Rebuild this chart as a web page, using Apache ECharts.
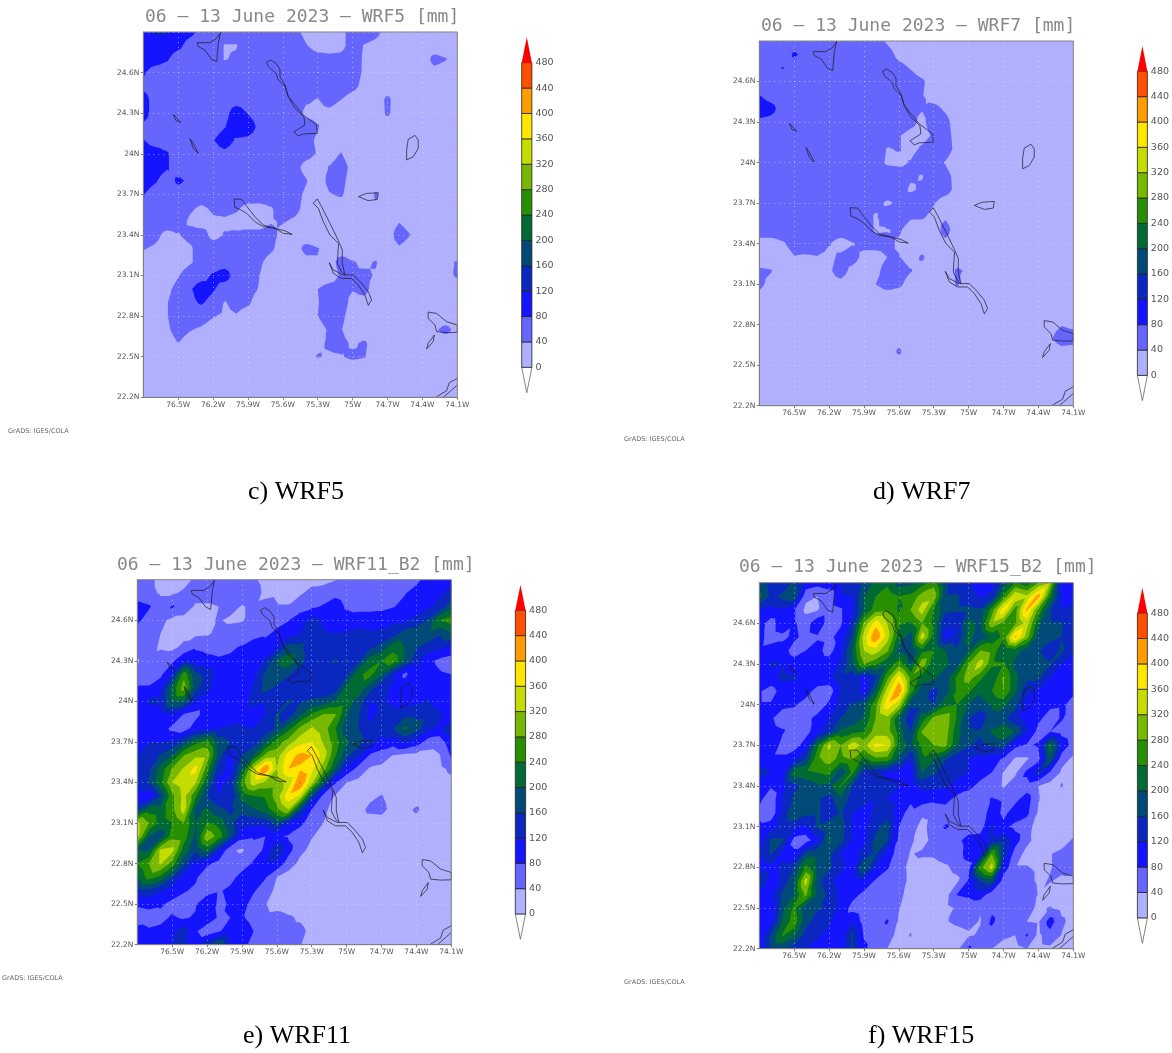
<!DOCTYPE html>
<html>
<head>
<meta charset="utf-8">
<style>html,body{margin:0;padding:0;background:#fff}#chart{width:1172px;height:1053px}</style>
<script src="https://cdn.jsdelivr.net/npm/echarts@6/dist/echarts.min.js"></script>
</head>
<body>
<div id="chart"></div>
<script>
// ---- values (mm), north to south, west to east, 0.1 degree nodes ----
const lons = [-76.8,-76.7,-76.6,-76.5,-76.4,-76.3,-76.2,-76.1,-76.0,-75.9,-75.8,-75.7,-75.6,-75.5,-75.4,-75.3,-75.2,-75.1,-75.0,-74.9,-74.8,-74.7,-74.6,-74.5,-74.4,-74.3,-74.2,-74.1];
const lats = [24.9,24.8,24.7,24.6,24.5,24.4,24.3,24.2,24.1,24.0,23.9,23.8,23.7,23.6,23.5,23.4,23.3,23.2,23.1,23.0,22.9,22.8,22.7,22.6,22.5,22.4,22.3,22.2];
const contourLevels = [0,40,80,120,160,200,240,280,320,360,400,440,480];
const bandColors = ['#b0b0ff','#6666ff','#1414ff','#0a28c0','#004a78','#006a35','#289000','#78b800','#c4dc00','#ffe600','#ff9c00','#ff5000','#ff0000'];

const wrf5 = [
[100,125,125,100,90,70,60,60,60,60,60,60,55,50,30,25,25,30,55,60,50,25,20,20,20,20,20,20],
[100,105,100,90,65,60,60,38,38,60,60,60,60,60,42,25,25,30,55,38,30,20,20,20,20,20,20,20],
[100,100,85,60,60,60,60,38,45,60,60,60,60,60,60,55,50,50,60,35,25,20,20,20,20,50,42,20],
[85,60,60,60,60,60,60,60,60,60,60,60,60,60,60,60,60,60,55,35,20,20,20,20,20,30,25,20],
[70,60,60,60,60,60,60,60,60,60,60,60,60,60,60,60,60,60,50,30,20,20,20,20,20,20,20,20],
[100,60,60,60,60,60,60,60,60,60,60,60,60,60,45,38,55,40,25,20,20,48,20,20,20,20,20,20],
[100,60,60,60,60,60,60,65,105,78,60,60,60,58,32,32,30,20,20,20,20,46,20,20,20,20,20,20],
[70,60,60,60,60,60,60,78,105,105,68,60,60,60,55,42,25,20,20,20,20,20,20,20,20,20,20,20],
[82,60,60,60,60,60,78,100,75,70,60,60,60,60,50,35,20,20,20,20,20,20,20,20,20,20,20,20],
[100,100,85,60,60,60,65,70,60,60,60,60,60,55,50,38,25,42,20,20,20,20,20,20,20,20,20,20],
[100,100,85,60,60,60,60,60,60,60,60,60,60,50,30,25,42,55,30,20,20,20,20,20,20,20,20,20],
[100,85,60,88,72,60,60,60,60,60,60,60,60,55,42,20,50,50,25,20,20,20,20,20,20,20,20,20],
[82,60,60,60,60,60,60,60,60,60,60,60,60,50,35,20,38,45,22,25,44,20,20,20,20,20,20,20],
[80,60,60,60,45,35,45,50,45,30,30,38,55,50,30,20,20,20,20,20,36,20,20,20,20,20,20,20],
[60,60,60,55,35,25,35,35,30,25,25,38,42,35,25,20,20,20,20,20,20,20,38,20,20,20,20,20],
[58,50,30,38,50,55,30,42,45,50,50,50,30,25,20,20,20,20,20,20,20,20,60,40,20,20,20,20],
[42,35,25,25,35,55,55,55,60,60,55,45,25,25,50,42,25,20,20,20,20,20,35,20,20,20,20,20],
[25,25,22,22,35,55,60,60,60,55,45,28,20,20,30,38,22,55,42,35,42,20,20,20,20,20,35,42],
[20,20,22,38,60,65,85,100,60,55,40,22,20,20,20,20,20,45,40,45,38,20,20,20,20,20,30,45],
[20,20,32,50,75,100,85,58,55,50,38,20,20,20,25,40,55,50,42,50,25,20,20,20,20,20,20,20],
[20,20,38,55,70,85,65,38,50,45,25,20,20,20,20,38,60,55,30,30,20,20,20,20,20,20,20,20],
[20,20,38,55,60,55,42,35,38,25,20,20,20,20,20,40,60,48,25,20,20,20,20,20,20,20,20,20],
[20,20,35,50,42,35,25,20,20,20,20,20,20,20,20,25,45,42,20,20,20,20,20,20,20,35,50,30],
[20,20,28,40,28,20,20,20,20,20,20,20,20,20,20,33,45,50,35,45,25,20,20,20,20,20,20,20],
[20,20,20,20,20,20,20,20,20,20,20,20,20,20,30,42,36,38,46,42,25,20,20,20,20,20,20,20],
[20,20,20,20,20,20,20,20,20,20,20,20,20,20,20,20,20,20,20,20,20,20,20,20,20,20,20,20],
[20,20,20,20,20,20,20,20,20,20,20,20,20,20,20,20,20,20,20,20,20,20,20,20,20,20,20,20],
[20,20,20,20,20,20,20,20,20,20,20,20,20,20,20,20,20,20,20,20,20,20,20,20,20,20,20,20]
];

const wrf7 = [
[60,60,60,60,60,60,60,60,60,60,60,35,20,20,20,20,20,20,20,20,20,20,20,20,20,20,20,20],
[60,60,60,85,70,60,60,60,60,60,60,55,30,20,20,20,20,20,20,20,20,20,20,20,20,20,20,20],
[60,60,82,60,60,60,60,60,60,60,60,60,52,38,22,20,20,20,20,20,20,20,20,20,20,20,20,20],
[60,60,60,60,60,60,60,60,60,60,60,60,60,55,45,25,20,20,20,20,20,20,20,20,20,20,20,20],
[80,60,60,60,60,60,60,60,60,60,60,60,60,55,42,22,20,20,20,20,20,20,20,20,20,20,20,20],
[105,95,60,60,60,60,60,60,60,60,60,60,60,45,42,50,35,20,20,20,20,20,20,20,20,20,20,20],
[70,65,60,60,60,60,60,60,60,60,60,60,60,50,32,58,50,25,20,20,20,20,20,20,20,20,20,20],
[60,60,60,60,60,60,60,60,60,60,60,60,42,30,28,45,50,30,20,20,20,20,20,20,20,20,20,20],
[60,60,60,60,60,60,60,60,60,60,60,38,42,30,45,60,55,30,20,20,20,20,20,20,20,20,20,20],
[60,60,60,60,60,60,60,60,60,60,55,35,32,42,60,55,38,20,20,20,20,20,20,20,20,20,20,20],
[60,60,60,60,60,60,60,60,60,60,60,60,60,45,38,60,50,30,20,20,20,20,20,20,20,20,20,20],
[60,60,60,60,60,60,60,60,60,60,60,60,55,35,45,60,55,28,20,20,20,20,20,20,20,20,20,20],
[60,60,60,60,60,60,60,60,60,55,50,35,45,60,60,42,22,20,20,20,20,20,20,20,20,20,20,20],
[60,60,60,60,60,60,60,60,60,55,36,60,60,45,45,30,35,20,20,20,20,20,20,20,20,20,20,20],
[60,60,60,60,60,60,60,60,60,60,36,38,45,25,20,20,55,20,20,20,20,20,20,20,20,20,20,20],
[25,25,35,55,60,60,42,25,38,50,55,50,35,20,20,20,30,20,20,20,20,20,20,20,20,20,20,20],
[20,20,20,38,35,38,30,48,55,30,25,40,42,25,45,20,20,20,20,20,20,20,20,20,20,20,20,20],
[45,42,20,20,20,20,35,55,30,20,30,55,58,42,28,20,20,45,35,20,20,20,20,20,20,20,20,20],
[48,30,20,20,20,20,30,30,20,20,40,55,48,25,38,20,20,44,22,20,20,20,20,20,20,20,20,20],
[30,20,20,20,20,20,20,20,20,20,20,20,20,20,20,20,20,20,20,20,20,20,20,20,20,20,20,20],
[20,20,20,20,20,20,20,20,20,20,20,20,20,20,20,20,20,20,20,20,20,20,20,20,20,20,20,20],
[20,20,20,20,20,20,20,20,20,20,20,20,20,20,20,20,20,20,20,20,20,20,20,20,20,25,38,30],
[20,20,20,20,20,20,20,20,20,20,20,20,25,20,20,20,20,20,20,20,20,20,20,20,20,35,60,60],
[20,20,20,20,20,20,20,20,20,20,20,20,46,20,20,20,20,20,20,20,20,20,20,20,20,20,25,20],
[20,20,20,20,20,20,20,20,20,20,20,20,20,20,20,20,20,20,20,20,20,20,20,20,20,20,20,20],
[20,20,20,20,20,20,20,20,20,20,20,20,20,20,20,20,20,20,20,20,20,20,20,20,20,20,20,20],
[20,20,20,20,20,20,20,20,20,20,20,20,20,20,20,20,20,20,20,20,20,20,20,20,20,20,20,20],
[20,20,20,20,20,20,20,20,20,20,20,20,20,20,20,20,20,20,20,20,20,20,20,20,20,20,20,20]
];

const wrf11 = [
[50,50,30,38,30,45,50,52,50,50,45,30,30,35,40,30,30,38,50,52,55,55,42,55,70,95,100,105],
[60,50,36,36,45,55,55,55,55,55,55,33,36,30,36,50,55,70,60,60,60,62,68,78,95,105,115,135],
[95,85,55,85,60,35,35,40,48,38,45,50,42,42,60,72,85,100,75,65,65,68,78,90,105,115,130,190],
[90,60,50,30,28,32,35,42,36,38,50,45,65,78,105,135,115,100,100,105,105,105,110,115,130,165,240,260],
[55,50,40,28,30,32,35,50,52,55,60,72,90,105,120,150,125,122,125,130,125,130,145,180,190,190,165,200],
[52,50,36,32,48,75,70,68,72,85,110,100,118,175,170,135,125,125,130,140,150,175,225,200,165,140,130,110],
[38,50,60,70,120,100,90,85,90,100,110,125,200,230,180,125,135,165,150,150,220,240,265,195,135,90,70,60],
[42,55,70,125,265,170,150,105,95,100,110,170,175,165,130,125,130,130,150,230,255,200,130,70,110,100,85,80],
[85,85,110,210,300,175,130,105,95,100,125,175,155,130,125,125,125,135,215,225,180,130,115,105,100,100,100,95],
[90,125,125,205,200,120,105,100,105,100,135,125,125,165,155,170,175,205,220,185,120,125,115,100,110,125,95,85],
[100,105,105,115,75,65,105,110,105,110,90,120,165,140,195,250,285,285,200,165,110,130,135,150,150,150,130,85],
[100,105,100,70,55,105,115,120,125,125,120,130,170,225,290,325,300,245,170,160,130,125,160,210,180,130,110,165],
[110,120,120,130,170,225,255,180,160,130,140,190,260,300,345,360,315,260,205,180,140,110,100,130,105,62,58,105],
[120,130,165,200,280,310,310,180,110,160,200,290,300,385,410,400,345,245,170,130,75,60,38,30,28,25,38,85],
[125,150,215,285,325,375,260,140,110,200,340,440,320,400,395,370,300,200,110,65,35,30,25,22,22,22,30,48],
[120,165,230,320,345,325,205,110,130,260,345,310,300,335,445,330,195,85,40,30,32,25,22,20,20,20,22,30],
[100,85,160,270,335,250,160,120,120,215,240,245,300,390,350,170,65,38,28,35,32,42,25,20,22,20,20,22],
[160,220,215,270,340,190,205,170,150,175,195,220,270,320,170,80,45,32,25,28,48,50,28,30,45,25,20,20],
[330,280,220,240,280,200,245,225,170,130,130,130,180,120,90,60,40,25,20,20,22,25,20,20,28,20,20,20],
[330,200,175,265,260,190,310,265,180,95,85,80,85,75,55,42,28,20,20,20,20,20,20,20,20,20,20,20],
[200,195,325,335,220,170,220,130,45,35,65,85,165,95,50,30,20,20,20,20,20,20,20,20,20,20,20,20],
[240,280,325,265,170,110,90,65,55,60,85,110,110,60,30,20,20,20,20,20,20,20,20,20,20,20,20,20],
[200,260,230,165,105,90,45,60,65,95,105,85,40,22,20,20,20,20,20,20,20,20,20,20,20,20,20,20],
[150,150,125,100,85,70,60,75,90,110,85,55,32,20,20,20,20,20,20,20,20,20,20,20,20,20,20,20],
[85,90,85,70,55,75,120,70,85,100,60,42,25,20,20,20,20,20,20,20,20,20,20,20,20,20,20,20],
[60,65,70,85,75,85,105,75,80,85,65,50,55,45,35,20,20,20,20,20,20,20,20,20,20,20,20,20],
[95,85,90,115,140,85,55,75,100,105,80,60,60,50,50,30,20,20,20,20,20,20,20,20,20,20,20,20],
[95,85,95,120,130,110,150,200,115,100,60,55,50,50,42,22,20,20,20,20,20,20,20,20,20,20,20,20]
];

const wrf15 = [
[170,140,130,170,110,95,110,120,150,170,210,230,180,190,220,260,170,130,125,100,105,180,240,210,280,320,110,115],
[215,150,170,190,50,40,50,115,120,200,240,265,240,250,300,310,165,165,140,115,130,250,360,330,420,240,120,115],
[120,110,115,85,30,38,60,75,115,200,260,270,235,280,340,240,170,165,170,165,260,390,260,410,270,165,120,125],
[100,60,110,85,60,110,60,75,135,290,385,320,245,235,280,230,130,125,210,190,310,270,270,340,210,165,165,120],
[95,60,70,90,65,75,70,95,170,340,440,340,220,180,345,225,110,130,215,170,210,250,410,300,180,175,160,120],
[90,100,100,60,80,95,60,115,200,320,340,290,190,165,230,240,200,165,200,280,270,195,220,180,165,130,170,125],
[90,125,120,100,100,110,105,125,190,280,250,205,265,190,310,205,210,180,280,340,250,245,190,165,190,165,120,105],
[85,110,130,125,110,115,110,150,130,110,150,270,380,270,220,210,175,250,300,250,205,285,210,170,170,120,105,95],
[85,60,100,105,100,60,55,125,150,105,200,340,440,260,175,150,180,245,245,205,240,280,205,130,115,100,95,85],
[85,85,90,85,60,50,90,130,165,190,270,390,330,170,170,160,230,240,195,180,205,210,175,105,100,90,85,70],
[85,85,60,60,65,95,120,160,165,205,280,310,205,130,220,290,305,235,160,125,190,170,130,105,90,60,85,55],
[90,95,85,55,65,105,150,210,230,240,300,300,225,160,285,310,300,215,170,165,205,235,195,125,65,80,60,40],
[90,125,60,60,100,230,330,280,345,305,370,360,230,190,250,280,290,205,165,150,165,175,90,75,85,225,120,55],
[85,90,90,110,165,270,300,265,285,225,270,265,190,125,230,205,165,130,120,110,95,75,35,35,65,200,50,35],
[140,120,105,225,235,240,250,170,250,140,125,115,110,100,200,170,130,130,120,95,80,38,32,90,140,75,35,25],
[100,85,110,150,170,195,190,245,160,135,130,125,120,95,130,130,125,110,90,70,60,36,60,60,40,25,42,22],
[90,50,125,170,175,165,140,190,140,125,120,120,110,85,100,90,95,65,60,60,85,75,70,100,42,22,20,20],
[70,50,130,200,170,170,125,165,120,115,125,150,90,70,45,50,55,60,65,50,105,70,100,90,35,20,20,20],
[90,105,130,130,110,170,190,180,120,110,150,175,80,55,30,55,85,70,60,60,125,90,70,55,22,20,20,20],
[100,165,165,65,60,105,205,175,120,110,170,165,70,45,28,50,55,70,95,100,130,145,100,50,25,20,22,45],
[120,165,110,90,175,190,170,120,100,140,165,105,60,38,45,45,55,60,100,110,280,150,60,28,22,38,50,55],
[90,110,130,165,250,190,170,130,100,200,120,85,55,30,25,28,35,50,65,265,340,110,42,42,35,38,50,55],
[170,95,130,195,340,175,130,105,95,110,75,55,60,30,20,22,25,32,85,160,185,55,42,50,35,42,32,28],
[100,110,170,200,290,190,150,110,95,70,60,80,50,25,20,20,22,82,90,105,55,48,60,65,38,25,22,20],
[90,90,185,250,170,165,155,110,65,50,50,55,42,20,20,20,28,45,50,42,70,55,55,50,35,42,28,20],
[90,100,205,265,175,140,125,105,120,60,60,85,35,30,22,28,38,45,50,38,90,48,48,40,35,100,48,25],
[90,165,245,210,145,125,110,90,170,75,60,60,25,42,20,22,25,30,35,45,60,45,40,85,30,65,38,25],
[95,170,170,140,120,110,100,90,165,90,50,40,22,25,20,20,22,28,90,40,40,30,25,40,28,32,25,22]
];

// coast outlines, degrees [lon, lat]
const coastA = [[-76.336,24.821],[-76.227,24.821],[-76.169,24.853],[-76.135,24.898],[-76.155,24.816],[-76.169,24.681],[-76.212,24.698],[-76.27,24.767],[-76.327,24.792],[-76.336,24.821]];
const coastB = [[-75.74,24.676],[-75.705,24.693],[-75.659,24.668],[-75.625,24.626],[-75.625,24.57],[-75.582,24.508],[-75.553,24.422],[-75.482,24.348],[-75.424,24.286],[-75.367,24.25],[-75.31,24.213],[-75.304,24.151],[-75.424,24.146],[-75.467,24.131],[-75.505,24.161],[-75.41,24.213],[-75.419,24.274],[-75.496,24.336],[-75.553,24.422],[-75.582,24.501],[-75.639,24.545],[-75.659,24.594],[-75.725,24.644],[-75.74,24.676]];
const coastC = [[-76.542,24.291],[-76.508,24.262],[-76.479,24.23],[-76.519,24.245],[-76.542,24.291]];
const coastD = [[-76.399,24.112],[-76.37,24.077],[-76.327,24.003],[-76.37,24.04],[-76.399,24.112]];
const coastE = [[-74.522,24.107],[-74.464,24.136],[-74.436,24.102],[-74.436,24.04],[-74.479,23.978],[-74.536,23.954],[-74.536,24.028],[-74.522,24.107]];
const coastF = [[-74.951,23.683],[-74.88,23.707],[-74.779,23.712],[-74.788,23.663],[-74.865,23.653],[-74.951,23.683]];
const coastG = [[-76.02,23.666],[-75.955,23.663],[-75.912,23.614],[-75.84,23.535],[-75.768,23.473],[-75.668,23.449],[-75.582,23.431],[-75.519,23.404],[-75.596,23.412],[-75.668,23.449],[-75.768,23.461],[-75.84,23.498],[-75.912,23.56],[-75.969,23.589],[-76.012,23.604],[-76.02,23.666]];
const coastH = [[-75.338,23.634],[-75.304,23.666],[-75.267,23.609],[-75.195,23.486],[-75.123,23.358],[-75.089,23.289],[-75.089,23.19],[-75.066,23.104],[-75.095,23.128],[-75.132,23.19],[-75.121,23.338],[-75.195,23.399],[-75.252,23.498],[-75.295,23.597],[-75.338,23.634]];
const coastI = [[-75.201,23.195],[-75.166,23.141],[-75.08,23.104],[-74.994,23.104],[-74.923,23.042],[-74.865,22.981],[-74.837,22.919],[-74.865,22.88],[-74.894,22.956],[-74.951,23.03],[-75.009,23.079],[-75.095,23.079],[-75.166,23.116],[-75.201,23.195]];
const coastJ = [[-74.35,22.83],[-74.278,22.82],[-74.192,22.759],[-74.1,22.734],[-74.1,22.68],[-74.192,22.678],[-74.278,22.685],[-74.292,22.734],[-74.35,22.783],[-74.35,22.83]];
const coastK = [[-74.298,22.66],[-74.307,22.611],[-74.364,22.557],[-74.35,22.599],[-74.298,22.66]];
const coastL = [[-74.1,22.34],[-74.169,22.308],[-74.192,22.249],[-74.278,22.204]];
const coastM = [[-74.22,22.2],[-74.148,22.254],[-74.1,22.291]];
const coasts = [coastA,coastB,coastC,coastD,coastE,coastF,coastG,coastH,coastI,coastJ,coastK,coastL,coastM];

const panelTitles = ['06 \u2013 13 June 2023 \u2013 WRF5 [mm]','06 \u2013 13 June 2023 \u2013 WRF7 [mm]','06 \u2013 13 June 2023 \u2013 WRF11_B2 [mm]','06 \u2013 13 June 2023 \u2013 WRF15_B2 [mm]'];
const captions = ['c) WRF5','d) WRF7','e) WRF11','f) WRF15'];
const credit = 'GrADS: IGES/COLA';
const fields = [wrf5,wrf7,wrf11,wrf15];

// ---- layout ----
const layout = [
  {map:[143.3,32,314,365.3], bar:[521.7,37.3,10.2,355.4], title:[145,8], cap:[248,479], cred:[8,428], diagonal:false},
  {map:[759.3,41,314,364.7], bar:[1137.4,46,10.3,354.7], title:[761,17], cap:[873,479], cred:[624,436], diagonal:false},
  {map:[137.3,579.7,314,365], bar:[515.3,585,10.3,354.3], title:[117,556], cap:[243,1023], cred:[2,975], diagonal:true},
  {map:[759.3,582.7,314,366], bar:[1137.4,587.7,10.3,355.6], title:[739,558], cap:[868,1023], cred:[624,979], diagonal:true}
];

function clipAbove(pts, lv){
  const out=[];
  for(let i=0;i<pts.length;i++){
    const a=pts[i], b=pts[(i+1)%pts.length];
    const ai=a[2]>=lv, bi=b[2]>=lv;
    if(ai) out.push(a);
    if(ai!==bi){
      const t=(lv-a[2])/(b[2]-a[2]);
      out.push([a[0]+t*(b[0]-a[0]),a[1]+t*(b[1]-a[1]),lv]);
    }
  }
  return out;
}
function fillRender(field, diagonal){
  return function(params, api){
    const k=api.value(2), lv=contourLevels[k];
    let d='';
    for(let r=0;r<lats.length-1;r++){
      for(let c=0;c<lons.length-1;c++){
        const P=(cc,rr)=>{const p=api.coord([lons[cc],lats[rr]]);return [p[0],p[1],field[rr][cc]];};
        const nw=P(c,r),ne=P(c+1,r),se=P(c+1,r+1),sw=P(c,r+1);
        let tris;
        if(diagonal){
          // split the cell along its SW-NE diagonal, the direction the rain bands run
          tris=[[nw,ne,sw],[ne,se,sw]];
        }else{
          const m=[(nw[0]+se[0])/2,(nw[1]+se[1])/2,(nw[2]+ne[2]+se[2]+sw[2])/4];
          tris=[[nw,ne,m],[ne,se,m],[se,sw,m],[sw,nw,m]];
        }
        tris.forEach(tri=>{
          const poly=clipAbove(tri,lv);
          if(poly.length>=3){
            d+='M'+poly.map(q=>q[0].toFixed(2)+' '+q[1].toFixed(2)).join('L')+'Z';
          }
        });
      }
    }
    if(!d) return {type:'group',children:[]};
    return {type:'path',shape:{pathData:d},style:{fill:bandColors[k],stroke:null},silent:true};
  };
}
function barRender(params, api){
  const lo=api.value(0), hi=api.value(1), k=api.value(2);
  const a=api.coord([0,lo]), b=api.coord([1,hi]);
  if(k<0){
    const t=api.coord([0.5,lo]);
    return {type:'polygon',shape:{points:[[a[0],b[1]],[b[0],b[1]],[t[0],t[1]]]},style:{fill:'#ffffff',stroke:'#666',lineWidth:0.8}};
  }
  if(k===bandColors.length-1){
    const t=api.coord([0.5,hi]);
    return {type:'polygon',shape:{points:[[a[0],a[1]],[b[0],a[1]],[t[0],t[1]]]},style:{fill:bandColors[k]}};
  }
  return {type:'rect',shape:{x:a[0],y:b[1],width:b[0]-a[0],height:a[1]-b[1]},style:{fill:bandColors[k],stroke:'#222',lineWidth:0.8}};
}

const grids=[],xAxes=[],yAxes=[],series=[],titles=[];
const tickFont={fontFamily:'DejaVu Sans',fontSize:7.5,color:'#555'};
const barData=[[-40,0,-1]].concat(contourLevels.map((lv,k)=>[lv,lv+40,k]));
const gridDots={show:true,lineStyle:{type:[1,4],color:'rgba(225,225,225,0.6)',width:1}};

fields.forEach((field,idx)=>{
  const L=layout[idx], g=grids.length;
  grids.push({left:L.map[0],top:L.map[1],width:L.map[2],height:L.map[3],show:true,z:4,backgroundColor:'transparent',borderColor:'#808080',borderWidth:1});
  xAxes.push({type:'value',gridIndex:g,min:-76.8,max:-74.1,interval:0.3,z:3,
    axisLine:{show:true,lineStyle:{color:'#808080'}},axisTick:{show:true,length:2.5,lineStyle:{color:'#808080'}},
    splitLine:gridDots,
    axisLabel:Object.assign({showMinLabel:false,margin:3.5,formatter:v=>parseFloat(Math.abs(v).toFixed(1))+'W'},tickFont)});
  yAxes.push({type:'value',gridIndex:g,min:22.2,max:24.9,interval:0.3,z:3,
    axisLine:{show:true,lineStyle:{color:'#808080'}},axisTick:{show:true,length:2.5,lineStyle:{color:'#808080'}},
    splitLine:gridDots,
    axisLabel:Object.assign({showMaxLabel:false,margin:4,formatter:v=>parseFloat(v.toFixed(1))+'N'},tickFont)});
  series.push({type:'custom',name:captions[idx],xAxisIndex:g,yAxisIndex:g,coordinateSystem:'cartesian2d',clip:true,silent:true,z:2,
    renderItem:fillRender(field,L.diagonal),encode:{x:0,y:1},
    data:contourLevels.map((lv,k)=>[lons[0],lats[lats.length-1],k])});
  coasts.forEach(c=>{
    series.push({type:'line',xAxisIndex:g,yAxisIndex:g,data:c,showSymbol:false,symbol:'none',silent:true,clip:true,z:3,
      lineStyle:{color:'#1a1a1a',width:0.7}});
  });
  // colour bar
  const h=grids.length;
  grids.push({left:L.bar[0],top:L.bar[1],width:L.bar[2],height:L.bar[3],show:false});
  xAxes.push({type:'value',gridIndex:h,min:0,max:1,show:false});
  yAxes.push({type:'value',gridIndex:h,min:-40,max:520,interval:40,position:'right',
    axisLine:{show:false},axisTick:{show:false},splitLine:{show:false},
    axisLabel:{margin:3.5,fontFamily:'DejaVu Sans',fontSize:9.5,color:'#555',
      formatter:v=>(v>=0&&v<=480)?String(v):''}});
  series.push({type:'custom',xAxisIndex:h,yAxisIndex:h,coordinateSystem:'cartesian2d',clip:false,silent:true,
    renderItem:barRender,encode:{y:[0,1]},data:barData});
  titles.push({text:panelTitles[idx],left:L.title[0],top:L.title[1],padding:0,
    textStyle:{fontFamily:'DejaVu Sans Mono',fontWeight:'normal',fontSize:18,color:'#888'}});
  titles.push({text:captions[idx],left:L.cap[0],top:L.cap[1],padding:0,
    textStyle:{fontFamily:'Liberation Serif',fontWeight:'normal',fontSize:26,color:'#000'}});
  titles.push({text:credit,left:L.cred[0],top:L.cred[1],padding:0,
    textStyle:{fontFamily:'DejaVu Sans',fontWeight:'normal',fontSize:6.5,color:'#666'}});
});

const chart=echarts.init(document.getElementById('chart'),null,{renderer:'canvas'});
chart.setOption({animation:false,backgroundColor:'#fff',title:titles,grid:grids,xAxis:xAxes,yAxis:yAxes,series:series,tooltip:{show:false},legend:{show:false}});
</script>
</body>
</html>
